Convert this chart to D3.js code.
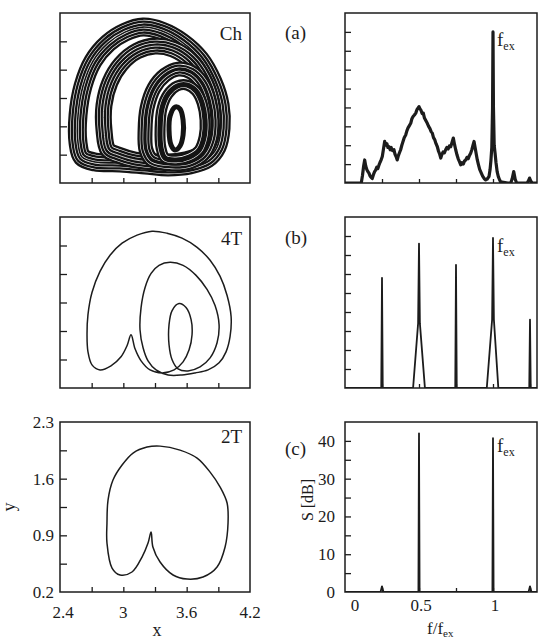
<!DOCTYPE html>
<html><head><meta charset="utf-8">
<script src="https://cdn.jsdelivr.net/npm/d3@7"></script>
<style>
body{margin:0;background:#fff}
svg{display:block}
text{font-family:"Liberation Serif","Times New Roman",serif;fill:#1c1c1c}
</style>
</head><body>
<svg id="chart" width="538" height="643"></svg>
<script>
// ---------- tick values & labels ----------
const xTickValues = [2.7, 3.0, 3.3, 3.6, 3.9];
const xTickLabels = [2.4, 3, 3.6, 4.2];
const yTickValues = [0.55, 0.9, 1.25, 1.6, 1.95];
const yTickLabels = [0.2, 0.9, 1.6, 2.3];
const fTickValues = [0.25, 0.5, 0.75, 1, 1.25];
const fTickLabels = [0, 0.5, 1];
const sTickValues = [5, 10, 15, 20, 25, 30, 35, 40];
const sTickLabels = [0, 10, 20, 30, 40];
const panelTags = ["(a)", "(b)", "(c)"];
const orbitNames = ["Ch", "4T", "2T"];

// ---------- (a) chaotic attractor: bands of loops (x, y) ----------
const chLoopA_x = [2.732,2.609,2.571,2.571,2.618,2.713,2.855,3.016,3.187,3.367,3.556,3.727,3.850,3.917,3.926,3.888,3.793,3.632,3.424,3.206,2.969];
const chLoopA_y = [0.459,0.521,0.694,1.040,1.398,1.706,1.928,2.064,2.126,2.077,1.941,1.731,1.447,1.163,0.879,0.644,0.496,0.422,0.398,0.422,0.447];
const chLoopB_x = [2.950,2.855,2.817,2.817,2.874,2.978,3.130,3.300,3.471,3.632,3.755,3.831,3.850,3.812,3.718,3.537,3.329,3.111];
const chLoopB_y = [0.546,0.607,0.854,1.163,1.447,1.669,1.830,1.891,1.854,1.719,1.496,1.225,0.953,0.706,0.546,0.472,0.459,0.484];
const chLoopC_x = [3.272,3.215,3.206,3.225,3.291,3.395,3.518,3.642,3.746,3.812,3.841,3.822,3.755,3.632,3.462];
const chLoopC_y = [0.484,0.607,0.854,1.126,1.373,1.533,1.607,1.570,1.435,1.225,0.978,0.731,0.558,0.459,0.435];
const chLoopD_x = [3.395,3.357,3.348,3.367,3.424,3.509,3.604,3.689,3.746,3.774,3.765,3.718,3.623,3.500];
const chLoopD_y = [0.509,0.632,0.879,1.126,1.299,1.398,1.410,1.336,1.188,0.978,0.768,0.607,0.521,0.484];
const chLoopE_x = [3.452,3.433,3.443,3.490,3.537,3.566,3.566,3.537,3.490];
const chLoopE_y = [0.669,0.854,1.027,1.138,1.114,0.978,0.793,0.657,0.607];

// ---------- (b) period-4 orbit ----------
const orb4_x = [3.073,3.035,2.978,2.883,2.779,2.703,2.665,2.656,2.665,2.703,2.779,2.874,2.988,3.130,3.272,3.414,3.556,3.699,3.822,3.917,3.983,4.021,4.011,3.973,3.907,3.803,3.680,3.556,3.424,3.310,3.234,3.187,3.158,3.168,3.206,3.263,3.338,3.443,3.566,3.689,3.793,3.869,3.907,3.888,3.822,3.727,3.613,3.518,3.462,3.433,3.433,3.462,3.528,3.594,3.642,3.651,3.623,3.566,3.481,3.367,3.253,3.168,3.111];
const orb4_y = [0.854,0.719,0.583,0.472,0.422,0.484,0.644,0.854,1.101,1.373,1.632,1.830,1.978,2.077,2.126,2.101,2.040,1.928,1.768,1.570,1.336,1.077,0.830,0.644,0.509,0.422,0.385,0.360,0.360,0.422,0.533,0.694,0.916,1.188,1.435,1.607,1.706,1.743,1.706,1.583,1.410,1.212,0.978,0.756,0.570,0.459,0.410,0.435,0.546,0.731,0.978,1.151,1.237,1.188,1.040,0.854,0.669,0.521,0.422,0.385,0.422,0.533,0.681];

// ---------- (c) period-2 orbit ----------
const orb2_x = [3.263,3.280,3.348,3.471,3.604,3.755,3.888,3.964,3.992,3.983,3.917,3.822,3.699,3.537,3.348,3.225,3.092,2.988,2.902,2.855,2.845,2.845,2.893,2.969,3.082,3.177,3.234];
const orb2_y = [0.941,0.756,0.570,0.410,0.360,0.385,0.509,0.756,1.052,1.299,1.496,1.681,1.854,1.953,2.002,1.990,1.916,1.768,1.583,1.336,1.052,0.805,0.496,0.410,0.447,0.632,0.805];

// ---------- spectra: f/f_ex and S [dB] ----------
const specA_f = [0,0.11,0.118,0.126,0.133,0.14,0.148,0.155,0.162,0.17,0.177,0.184,0.192,0.2,0.207,0.215,0.222,0.23,0.237,0.245,0.252,0.26,0.268,0.275,0.283,0.29,0.297,0.305,0.312,0.32,0.331,0.338,0.345,0.353,0.36,0.368,0.376,0.384,0.392,0.4,0.41,0.418,0.426,0.435,0.444,0.452,0.46,0.469,0.478,0.486,0.493,0.5,0.507,0.514,0.521,0.529,0.537,0.545,0.556,0.565,0.574,0.582,0.59,0.598,0.607,0.615,0.624,0.632,0.64,0.647,0.655,0.663,0.672,0.68,0.688,0.697,0.705,0.714,0.722,0.732,0.74,0.748,0.757,0.765,0.774,0.782,0.79,0.799,0.807,0.816,0.824,0.832,0.84,0.849,0.857,0.865,0.872,0.88,0.887,0.894,0.902,0.91,0.921,0.93,0.94,0.951,0.96,0.967,0.973,0.98,0.986,0.992,0.997,1.0,1.003,1.008,1.014,1.02,1.028,1.036,1.045,1.052,1.1,1.12,1.13,1.14,1.15,1.16,1.23,1.24,1.247,1.255,1.265,1.3];
const specA_dB = [0,0,2,4.5,6.1,4.5,3.5,3.0,2.6,1.8,1.5,1.2,2.2,3.0,3.4,4.2,3.8,4.8,5.5,6.2,7.0,9.0,11,10,10.4,9.4,9.6,8.8,9.4,8.6,8.8,7.6,7.0,6.1,7.2,8.0,8.8,10.0,11.0,12.0,12.7,13.8,14.6,15.2,15.8,17.0,17.6,18.0,18.5,19.4,19.8,20.2,19.6,19.2,18.4,18.5,17.2,16.6,15.8,15.0,14.4,13.6,13.2,12.0,11.4,10.4,9.6,8.4,7.6,6.6,7.6,8.2,8.0,8.8,9.4,9.0,9.8,9.6,10.6,11.9,10.2,8.8,7.4,6.4,5.6,4.8,5.4,5.0,5.8,6.1,6.8,6.4,7.2,7.9,8.8,10.0,11.0,9.2,7.6,6.1,4.8,3.6,2.6,1.8,1.2,0.8,1.0,1.4,1.7,3.5,6.0,9.5,20,40,20,10,7.9,5.5,3.0,1.7,0.8,0.3,0,0,1.2,3.0,1.0,0,0,0.6,1.3,0.5,0,0];

const specB_f = [0,0.245,0.25,0.255,0.46,0.494,0.5,0.506,0.54,0.745,0.75,0.755,0.958,0.994,1.0,1.006,1.036,1.245,1.25,1.255,1.3];
const specB_dB = [0,0,29,0,0,17,38,17,0,0,32.4,0,0,18,39.5,18,0,0,18,0,0];

const specC_f = [0,0.24,0.25,0.26,0.496,0.5,0.504,0.996,1.0,1.004,1.24,1.25,1.26,1.3];
const specC_dB = [0,0,1.5,0,0,42,0,0,40.7,0,0,1.5,0,0];

// ---------- layout ----------
const rows = [{top:13,bottom:183},{top:217,bottom:388},{top:422,bottom:592}];
const L = {x0:60, x1:250};
const R = {x0:345, x1:537};
const INK = "#1c1c1c";

const svg = d3.select("#chart");
const x = d3.scaleLinear().domain([2.4, 4.2]).range([L.x0, L.x1]);
const f = d3.scaleLinear().domain([0, 1.3]).range([R.x0, R.x0 + 1.3*148]);

function zip(a, b){ return a.map((v,i)=>[v,b[i]]); }

rows.forEach((r, i) => {
  const y = d3.scaleLinear().domain([0.2, 2.3]).range([r.bottom, r.top]);
  const s = d3.scaleLinear().domain([0, 45]).range([r.bottom, r.top]);

  svg.append("clipPath").attr("id","cl"+i).append("rect")
    .attr("x",L.x0).attr("y",r.top).attr("width",L.x1-L.x0).attr("height",r.bottom-r.top);
  svg.append("clipPath").attr("id","cr"+i).append("rect")
    .attr("x",R.x0).attr("y",r.top).attr("width",R.x1-R.x0).attr("height",r.bottom-r.top);

  // ---------- left panel ----------
  const gl = svg.append("g");
  const inner = gl.append("g").attr("clip-path","url(#cl"+i+")");
  const line = d3.line().x(d=>x(d[0])).y(d=>y(d[1])).curve(d3.curveCatmullRomClosed.alpha(0.5));

  if (i === 0) {
    const loops = [[chLoopA_x,chLoopA_y,19],[chLoopB_x,chLoopB_y,17],[chLoopC_x,chLoopC_y,15],[chLoopD_x,chLoopD_y,11],[chLoopE_x,chLoopE_y,5]];
    loops.forEach(([lx, ly, w]) => {
      const d = line(zip(lx, ly));
      let cur = w, black = true;
      while (cur > 0.8) {
        inner.append("path").attr("d", d).attr("fill","none")
          .attr("stroke", black ? "#141414" : "#fafafa")
          .attr("stroke-width", cur).attr("stroke-linejoin","round");
        cur -= black ? 4.6 : 1.2;
        black = !black;
      }
    });
  } else {
    const pts = i === 1 ? zip(orb4_x, orb4_y) : zip(orb2_x, orb2_y);
    inner.append("path").attr("d", line(pts)).attr("fill","none")
      .attr("stroke", INK).attr("stroke-width", 1.5);
  }

  gl.append("g").attr("transform",`translate(0,${r.bottom})`)
    .call(d3.axisBottom(x).tickValues(xTickValues).tickSize(-5).tickFormat(""))
    .call(g=>{g.select(".domain").remove(); g.selectAll("line").attr("stroke",INK).attr("stroke-width",1.3);});
  gl.append("g").attr("transform",`translate(${L.x0},0)`)
    .call(d3.axisLeft(y).tickValues(yTickValues).tickSize(-7).tickFormat(""))
    .call(g=>{g.select(".domain").remove(); g.selectAll("line").attr("stroke",INK).attr("stroke-width",1.3);});
  gl.append("rect").attr("x",L.x0).attr("y",r.top).attr("width",L.x1-L.x0).attr("height",r.bottom-r.top)
    .attr("fill","none").attr("stroke",INK).attr("stroke-width",1.5);

  gl.append("text").attr("x",242).attr("y", r.top + [27,28,21][i]).attr("text-anchor","end")
    .attr("font-size",19).text(orbitNames[i]);
  svg.append("text").attr("x",285).attr("y", r.top + [26,27,33][i]).attr("font-size",19).text(panelTags[i]);

  // ---------- right panel ----------
  const gr = svg.append("g");
  const innerR = gr.append("g").attr("clip-path","url(#cr"+i+")");
  const sline = d3.line().x(d=>f(d[0])).y(d=>s(d[1]));
  const spec = [zip(specA_f, specA_dB), zip(specB_f, specB_dB), zip(specC_f, specC_dB)][i];
  innerR.append("path").attr("d", sline(spec)).attr("fill","none")
    .attr("stroke", INK).attr("stroke-width", i === 0 ? 3.2 : 1.8).attr("stroke-linejoin","round");

  gr.append("g").attr("transform",`translate(0,${r.bottom})`)
    .call(d3.axisBottom(f).tickValues(fTickValues).tickSize(-4).tickFormat(""))
    .call(g=>{g.select(".domain").remove(); g.selectAll("line").attr("stroke",INK).attr("stroke-width",1.3);});
  gr.append("g").attr("transform",`translate(${R.x0},0)`)
    .call(d3.axisLeft(s).tickValues(sTickValues).tickSize(-6).tickFormat(""))
    .call(g=>{g.select(".domain").remove(); g.selectAll("line").attr("stroke",INK).attr("stroke-width",1.3);});
  gr.append("rect").attr("x",R.x0).attr("y",r.top).attr("width",R.x1-R.x0).attr("height",r.bottom-r.top)
    .attr("fill","none").attr("stroke",INK).attr("stroke-width",1.5);

  const fl = gr.append("text").attr("x", 497).attr("y", r.top + [33,35,30][i]).attr("font-size",19);
  fl.append("tspan").text("f");
  fl.append("tspan").attr("font-size",12).attr("dy",4).text("ex");

  if (i === 2) {
    svg.append("g").selectAll("text").data(xTickLabels).join("text")
      .attr("x", d=>x(d)+ (d===2.4?3:0)).attr("y", 618).attr("text-anchor","middle").attr("font-size",17)
      .text(d=>String(d));
    svg.append("g").selectAll("text").data(yTickLabels).join("text")
      .attr("x", 54).attr("y", d=>y(d)).attr("dy","0.35em").attr("text-anchor","end").attr("font-size",17)
      .text(d=>String(d));
    svg.append("text").attr("x",157).attr("y",636).attr("text-anchor","middle").attr("font-size",18).text("x");
    svg.append("text").attr("transform","translate(15,507) rotate(-90)").attr("text-anchor","middle")
      .attr("font-size",18).text("y");

    svg.append("g").selectAll("text").data(fTickLabels).join("text")
      .attr("x", d=>f(d) + (d===0?10:2)).attr("y", 611).attr("text-anchor","middle").attr("font-size",17)
      .text(d=>String(d));
    svg.append("g").selectAll("text").data(sTickLabels).join("text")
      .attr("x", 335).attr("y", d=>s(d)).attr("dy","0.35em").attr("text-anchor","end").attr("font-size",17)
      .text(d=>String(d));
    svg.append("text").attr("transform","translate(313,500) rotate(-90)").attr("text-anchor","middle")
      .attr("font-size",16).text("S [dB]");
    const ft = svg.append("text").attr("x",427).attr("y",634).attr("font-size",17);
    ft.append("tspan").text("f/f");
    ft.append("tspan").attr("font-size",11).attr("dy",3).text("ex");
  }
});
</script>
</body></html>
